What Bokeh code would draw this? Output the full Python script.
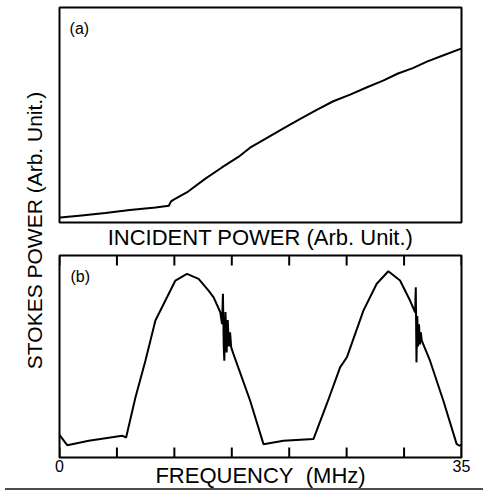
import math
from bokeh.plotting import figure
from bokeh.models import Range1d, Label, FixedTicker, Div
from bokeh.layouts import row, column
from bokeh.embed import file_html
from bokeh.resources import INLINE

# ---------------- data ----------------
# Panel (a): Stokes power vs incident power (arb. units)
incident_a = [0.0, 0.2, 5.5, 11.4, 17.5, 23.9, 27.2, 27.7, 28.3, 32.0, 36.3, 40.4,
              44.5, 47.4, 51.2, 55.6, 59.9, 64.1, 68.1, 72.3, 76.5, 80.5, 84.2,
              87.9, 91.4, 95.7, 99.9]
stokes_a = [2.0, 2.3, 3.3, 4.4, 5.8, 7.0, 7.8, 9.7, 10.5, 14.4, 20.4, 25.6,
            30.5, 34.8, 38.9, 43.7, 48.2, 52.5, 56.4, 59.5, 62.9, 66.0, 69.3,
            71.8, 74.8, 77.9, 80.9]

# Panel (b): Stokes power vs frequency (MHz)
freq_b = [0.0, 0.67, 2.55, 5.45, 5.80, 6.61, 7.48, 8.35, 9.22, 10.09, 11.10,
          12.11, 12.98, 13.42, 14.00, 14.15, 14.23, 14.30, 14.35, 14.45, 14.55,
          14.65, 14.75, 14.85, 14.95, 15.14, 16.60, 17.76, 19.50, 22.11, 23.27,
          24.43, 25.02, 26.46, 27.62, 28.63, 29.65, 30.52, 30.96, 31.02, 31.08,
          31.15, 31.22, 31.30, 31.38, 31.46, 31.54, 32.26, 33.42, 34.58, 34.87,
          35.0]
stokes_b = [11.2, 6.1, 8.3, 10.8, 9.9, 29.7, 47.9, 67.8, 77.7, 87.6, 90.9,
            88.4, 82.6, 79.3, 71.9, 66.0, 81.0, 55.0, 47.9, 72.0, 52.0,
            68.0, 55.0, 62.0, 54.5, 51.3, 28.1, 6.6, 8.3, 9.1, 26.5,
            44.6, 49.6, 72.7, 86.0, 92.2, 87.6, 77.7, 71.9, 84.3, 47.1,
            70.0, 55.0, 66.0, 56.0, 62.0, 57.9, 47.9, 28.1, 6.6, 5.8,
            6.5]

freq_ticks = [0, 5, 10, 15, 20, 25, 30, 35]
freq_tick_labels = {0: "0", 35: "35"}

FONT = "Liberation Sans"
NB = "\u00a0"

# ---------------- y label strip ----------------
ylab = figure(width=48, height=493, x_range=Range1d(0, 1), y_range=Range1d(0, 1),
              output_backend="svg", toolbar_location=None,
              x_axis_location=None, y_axis_location=None, min_border=0)
ylab.outline_line_color = None
ylab.grid.visible = False
ylab.add_layout(Label(x=0.708, y=1 - 230 / 493, text="STOKES POWER (Arb. Unit.)",
                      angle=math.pi / 2, text_align="center", text_baseline="middle",
                      text_font=FONT, text_font_size="21px", text_color="black"))

# ---------------- panel (a) ----------------
pa = figure(width=427, height=253, x_range=Range1d(0, 100), y_range=Range1d(0, 100),
            output_backend="svg", toolbar_location=None,
            x_axis_location="below", y_axis_location=None,
            min_border_left=11, min_border_right=14, min_border_top=7,
            min_border_bottom=31)
pa.grid.visible = False
pa.outline_line_color = "black"
pa.outline_line_width = 2
pa.line(incident_a, stokes_a, line_color="black", line_width=2)
pa.add_layout(Label(x=2.5, y=94.3, text="(a)", text_align="left", text_baseline="top",
                    text_font=FONT, text_font_size="16px", text_color="black"))
xa = pa.xaxis[0]
xa.ticker = FixedTicker(ticks=[])
xa.axis_line_color = None
xa.major_tick_line_color = None
xa.minor_tick_line_color = None
xa.major_tick_out = 0
xa.major_label_standoff = 0
xa.axis_label = "INCIDENT POWER (Arb. Unit.)"
xa.axis_label_standoff = 2
xa.axis_label_text_font = FONT
xa.axis_label_text_font_size = "22px"
xa.axis_label_text_font_style = "normal"
xa.axis_label_text_color = "black"

# ---------------- panel (b) ----------------
pb = figure(width=427, height=240, x_range=Range1d(0, 35), y_range=Range1d(0, 100),
            output_backend="svg", toolbar_location=None,
            x_axis_location="below", y_axis_location=None,
            min_border_left=11, min_border_right=14, min_border_top=2,
            min_border_bottom=36)
pb.grid.visible = False
pb.outline_line_color = "black"
pb.outline_line_width = 2
pb.line(freq_b, stokes_b, line_color="black", line_width=2)

# inward tick marks along the top and bottom edges
TICK_LEN = 5.0
n_t = len(freq_ticks)
pb.segment(x0=freq_ticks, y0=[100] * n_t, x1=freq_ticks, y1=[100 - TICK_LEN] * n_t,
           line_color="black", line_width=2)
pb.segment(x0=freq_ticks, y0=[0] * n_t, x1=freq_ticks, y1=[TICK_LEN] * n_t,
           line_color="black", line_width=2)

xb = pb.xaxis[0]
xb.ticker = FixedTicker(ticks=freq_ticks)
xb.major_label_overrides = {t: freq_tick_labels.get(t, "") for t in freq_ticks}
xb.major_tick_in = 0
xb.major_tick_out = 0
xb.major_tick_line_color = None
xb.minor_tick_line_color = None
xb.axis_line_color = None
xb.major_label_standoff = 2
xb.major_label_text_font = FONT
xb.major_label_text_font_size = "16px"
xb.major_label_text_color = "black"
xb.axis_label = "FREQUENCY" + NB + NB + "(MHz)"
xb.axis_label_standoff = -12
xb.axis_label_text_font = FONT
xb.axis_label_text_font_size = "22px"
xb.axis_label_text_font_style = "normal"
xb.axis_label_text_color = "black"

pb.add_layout(Label(x=0.96, y=93.6, text="(b)", text_align="left", text_baseline="top",
                    text_font=FONT, text_font_size="16px", text_color="black"))

# ---------------- separator line ----------------
sep = Div(text="", width=483, height=2,
          styles={"background-color": "#4d4d4d", "margin-top": "-5px"})

layout = column(row(ylab, column(pa, pb)), sep)

open("out.html", "w").write(file_html(layout, INLINE))
